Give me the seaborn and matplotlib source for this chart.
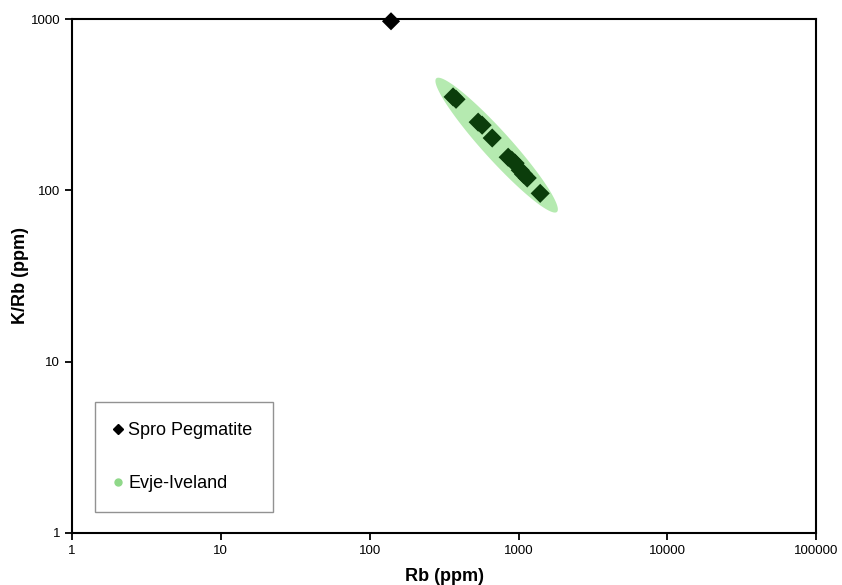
import numpy as np
import pandas as pd
import matplotlib
matplotlib.use("Agg")
import matplotlib.pyplot as plt
from matplotlib.lines import Line2D
import seaborn as sns

sns.set_theme(style="white")
plt.rcParams["font.family"] = ["Liberation Sans", "DejaVu Sans"]
plt.rcParams["text.color"] = "black"
plt.rcParams["axes.labelcolor"] = "black"
plt.rcParams["xtick.color"] = "black"
plt.rcParams["ytick.color"] = "black"

# Spro pegmatite sample
spro_rb = [139]
spro_krb = [970]

# Evje-Iveland samples
evje_rb = [363, 380, 535, 569, 665, 851, 900, 948, 1026, 1080, 1143, 1397]
evje_krb = [351, 340, 250, 240, 202, 156, 150, 144, 131, 124, 118, 96]

x_ticks = [1, 10, 100, 1000, 10000, 100000]
y_ticks = [1, 10, 100, 1000]

spro = pd.DataFrame({"Rb": spro_rb, "KRb": spro_krb})
evje = pd.DataFrame({"Rb": evje_rb, "KRb": evje_krb})

fig = plt.figure(figsize=(8.42, 5.85), dpi=100)
ax = fig.add_axes([0.0855, 0.089, 0.884, 0.8785])
ax.set_xscale("log")
ax.set_yscale("log")
ax.set_xlim(1, 100000)
ax.set_ylim(1, 1000)

# highlight ellipse around the Evje-Iveland trend (built in pixel-like log space)
sx, sy = 148.8, 171.3
lx = np.log10(evje["Rb"].values) * sx
ly = np.log10(evje["KRb"].values) * sy
i0, i1 = np.argmin(lx), np.argmax(lx)
cx, cy = (lx[i0] + lx[i1]) / 2, (ly[i0] + ly[i1]) / 2
dx, dy = lx[i1] - lx[i0], ly[i1] - ly[i0]
half_len = np.hypot(dx, dy) / 2 + 25
half_wid = 14
ang = np.arctan2(dy, dx)
t = np.linspace(0, 2 * np.pi, 200)
ex = cx + half_len * np.cos(t) * np.cos(ang) - half_wid * np.sin(t) * np.sin(ang)
ey = cy + half_len * np.cos(t) * np.sin(ang) + half_wid * np.sin(t) * np.cos(ang)
ax.fill(10 ** (ex / sx), 10 ** (ey / sy), color="#b5eab0", lw=0, zorder=1)

sns.scatterplot(data=evje, x="Rb", y="KRb", marker="D", s=95, color="#0b3d0b",
                edgecolor="none", ax=ax, zorder=3)
sns.scatterplot(data=spro, x="Rb", y="KRb", marker="D", s=85, color="black",
                edgecolor="none", ax=ax, zorder=4, clip_on=False)

ax.set_xticks(x_ticks)
ax.set_xticklabels([str(v) for v in x_ticks])
ax.set_yticks(y_ticks)
ax.set_yticklabels([str(v) for v in y_ticks])
ax.minorticks_off()
ax.tick_params(axis="both", which="major", direction="out", length=5, width=1.3,
               color="black", labelsize=9.5, bottom=True, left=True)
for sp in ax.spines.values():
    sp.set_color("black")
    sp.set_linewidth(1.5)

ax.set_xlabel("Rb (ppm)", fontsize=13, fontweight="bold", labelpad=8)
ax.set_ylabel("K/Rb (ppm)", fontsize=13, fontweight="bold", labelpad=1)

handles = [
    Line2D([], [], marker="D", ls="none", color="black", markersize=5),
    Line2D([], [], marker="o", ls="none", color="#8fd889", markersize=5),
]
leg = ax.legend(handles, ["Spro Pegmatite", "Evje-Iveland"], loc="lower left",
                bbox_to_anchor=(0.031, 0.041), fontsize=13, frameon=True,
                fancybox=False, edgecolor="#777777", labelspacing=2.0,
                borderpad=1.1, handlelength=0.3, handletextpad=0.45,
                borderaxespad=0)
leg.get_frame().set_linewidth(1.0)

fig.savefig("out.png", dpi=100)
